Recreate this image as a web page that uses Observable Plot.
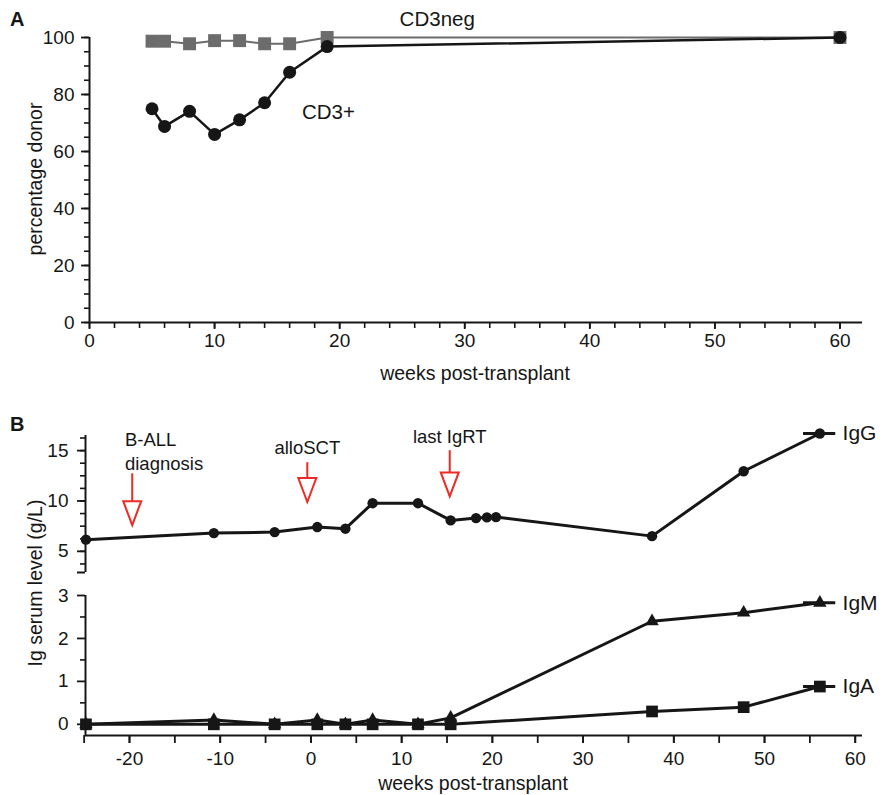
<!DOCTYPE html>
<html>
<head>
<meta charset="utf-8">
<script src="https://cdn.jsdelivr.net/npm/d3@7"></script>
<script src="https://cdn.jsdelivr.net/npm/@observablehq/plot@0.6"></script>
<style>
  html, body { margin: 0; padding: 0; background: #fff; }
  #wrap { position: relative; width: 889px; height: 795px; font-family: "Liberation Sans", Arial, sans-serif; color: #161616; }
  .panel { position: absolute; left: 0; }
  .tag { position: absolute; font-weight: bold; font-size: 20px; }
  .ylab { position: absolute; font-size: 19.5px; white-space: nowrap; transform: translate(-50%, -50%) rotate(-90deg); }
  .xlab { position: absolute; font-size: 19.5px; white-space: nowrap; transform: translate(-50%, -50%); }
</style>
</head>
<body>
<div id="wrap">
  <div class="tag" style="left:10px;top:8px;">A</div>
  <div class="tag" style="left:10px;top:413px;">B</div>
  <div class="ylab" style="left:35px;top:179px;">percentage donor</div>
  <div class="xlab" style="left:475px;top:373px;">weeks post-transplant</div>
  <div class="ylab" style="left:35px;top:583px;">Ig serum level (g/L)</div>
  <div class="xlab" style="left:473px;top:783px;">weeks post-transplant</div>
</div>
<script>
// ---------- Panel A data ----------
const weeksCD3pos = [5, 6, 8, 10, 12, 14, 16, 19, 60];
const cd3pos      = [75.0, 68.8, 74.1, 66.0, 71.1, 77.1, 87.8, 96.8, 100];
const weeksCD3neg = [5, 6, 8, 10, 12, 14, 16, 19, 60];
const cd3neg      = [98.7, 98.7, 97.8, 98.9, 98.9, 97.8, 97.8, 100, 100];
const yTicksA = [0, 20, 40, 60, 80, 100];
const xTicksA = [0, 10, 20, 30, 40, 50, 60];

// ---------- Panel B data ----------
const weeksIgG = [-24.8, -10.7, -4.0, 0.7, 3.8, 6.8, 11.8, 15.4, 18.2, 19.4, 20.4, 37.6, 47.7, 56.1];
const igG      = [6.16, 6.81, 6.91, 7.41, 7.25, 9.78, 9.78, 8.07, 8.30, 8.37, 8.40, 6.51, 12.95, 16.7];
const weeksIgMA = [-24.8, -10.7, -4.0, 0.7, 3.8, 6.8, 11.8, 15.4, 37.6, 47.7, 56.1];
const igM      = [0, 0.1, 0, 0.1, 0, 0.1, 0, 0.15, 2.40, 2.60, 2.83];
const igA      = [0, 0, 0, 0, 0, 0, 0, 0, 0.30, 0.40, 0.88];
const eventWeeks   = [-19.7, -0.4, 15.3];
const eventStemTop = [12.7, 13.8, 15.0];
const eventTip     = [7.6, 9.9, 10.45];
const eventTexts   = ["B-ALL", "diagnosis", "alloSCT", "last IgRT"];
const eventTextX   = [-20.5, -20.5, -0.4, 15.3];
const eventTextY   = [16.0, 13.7, 15.3, 16.3];
const eventTextAnchor = ["start", "start", "middle", "middle"];
const yTicksBtop = [5, 10, 15];
const yTicksBbot = [0, 1, 2, 3];
const xTicksB = [-20, -10, 0, 10, 20, 30, 40, 50, 60];

const black = "#161616", grey = "#6c6c6c", red = "#ee2a24";
const font = { fontFamily: "Liberation Sans, Arial, sans-serif", fontSize: "19px", color: "#161616", background: "transparent", overflow: "visible" };
const blank = () => "";
const plain = d => String(d);

const posData = weeksCD3pos.map((w, i) => ({ w, v: cd3pos[i] }));
const negData = weeksCD3neg.map((w, i) => ({ w, v: cd3neg[i] }));

const xA = [0, 61.8];
const plotA = Plot.plot({
  width: 889, height: 395,
  marginLeft: 89, marginRight: 27, marginTop: 37, marginBottom: 73,
  style: font,
  x: { domain: xA },
  y: { domain: [0, 100] },
  marks: [
    Plot.axisY({ ticks: d3.range(0, 101, 5), tickSize: 5, tickFormat: blank, label: null, strokeWidth: 1.6 }),
    Plot.axisY({ ticks: yTicksA, tickSize: 8, tickPadding: 7, tickFormat: plain, strokeWidth: 1.8, label: null, fontSize: 19 }),
    Plot.axisX({ ticks: d3.range(0, 62, 2), tickSize: 6, tickFormat: blank, label: null, strokeWidth: 1.6 }),
    Plot.axisX({ ticks: xTicksA, tickSize: 7, tickPadding: 4, tickFormat: plain, strokeWidth: 1.8, label: null, fontSize: 19 }),
    Plot.ruleX([xA[0]], { stroke: black, strokeWidth: 2 }),
    Plot.ruleY([0], { stroke: black, strokeWidth: 2 }),
    Plot.line(negData, { x: "w", y: "v", stroke: grey, strokeWidth: 2 }),
    Plot.dot(negData, { x: "w", y: "v", symbol: "square", r: 7.3, fill: grey }),
    Plot.line(posData, { x: "w", y: "v", stroke: black, strokeWidth: 2.5 }),
    Plot.dot(posData, { x: "w", y: "v", r: 6.5, fill: black }),
    Plot.text(["CD3neg"], { x: 27.8, y: 106.3, text: d => d, fontSize: 20.5, fill: black }),
    Plot.text(["CD3+"], { x: 19.1, y: 73.7, text: d => d, fontSize: 20.5, fill: black })
  ]
});
plotA.classList.add("panel");
plotA.style.top = "0px";

// Panel B
const xB = [-24.85, 60.8];
const igGData = weeksIgG.map((w, i) => ({ w, v: igG[i] }));
const igMData = weeksIgMA.map((w, i) => ({ w, v: igM[i] }));
const igAData = weeksIgMA.map((w, i) => ({ w, v: igA[i] }));
const events = eventWeeks.map((w, i) => ({ w, top: eventStemTop[i], tip: eventTip[i] }));
const eventText = eventTexts.map((t, i) => ({ t, x: eventTextX[i], y: eventTextY[i], a: eventTextAnchor[i] }));
const headSymbol = { draw(ctx) { ctx.moveTo(0, 0); ctx.lineTo(-9, -24); ctx.lineTo(9, -24); ctx.closePath(); } };
const legendSeg = (data, name) => { const last = data[data.length - 1]; return { w: last.w, v: last.v, name }; };

const yTopDom = [2.9, 16.5];
const plotBtop = Plot.plot({
  width: 889, height: 180,
  marginLeft: 85, marginRight: 27, marginTop: 35, marginBottom: 8,
  style: font,
  x: { domain: xB, axis: null },
  y: { domain: yTopDom },
  marks: [
    Plot.axisY({ ticks: d3.range(3.75, 16.5, 1.25), tickSize: 5, tickFormat: blank, label: null, strokeWidth: 1.6 }),
    Plot.axisY({ ticks: yTicksBtop, tickSize: 8, tickPadding: 9, tickFormat: plain, strokeWidth: 1.8, label: null, fontSize: 19 }),
    Plot.axisY({ ticks: [yTopDom[0]], tickSize: 8, tickFormat: blank, label: null, strokeWidth: 2 }),
    Plot.ruleX([xB[0]], { stroke: black, strokeWidth: 2 }),
    Plot.ruleX(events, { x: "w", y1: "top", y2: "tip", stroke: red, strokeWidth: 2 }),
    Plot.dot(events, { x: "w", y: "tip", symbol: headSymbol, r: 5, fill: "white", stroke: red, strokeWidth: 2 }),
    Plot.text(eventText.filter(d => d.a === "start"), { x: "x", y: "y", text: "t", textAnchor: "start", fontSize: 18.5, fill: black }),
    Plot.text(eventText.filter(d => d.a === "middle"), { x: "x", y: "y", text: "t", textAnchor: "middle", fontSize: 18.5, fill: black }),
    Plot.ruleY([legendSeg(igGData, "IgG")], { y: "v", x1: 54.3, x2: 57.85, stroke: black, strokeWidth: 3 }),
    Plot.text([legendSeg(igGData, "IgG")], { x: 58.6, y: "v", text: "name", textAnchor: "start", fontSize: 21, fill: black }),
    Plot.line(igGData, { x: "w", y: "v", stroke: black, strokeWidth: 3 }),
    Plot.dot(igGData, { x: "w", y: "v", r: 5.2, fill: black })
  ]
});
plotBtop.classList.add("panel");
plotBtop.style.top = "400px";

const plotBbot = Plot.plot({
  width: 889, height: 215,
  marginLeft: 85, marginRight: 27, marginTop: 15, marginBottom: 60,
  style: font,
  x: { domain: xB },
  y: { domain: [-0.26, 3] },
  marks: [
    Plot.axisY({ ticks: [0.5, 1.5, 2.5], tickSize: 5, tickFormat: blank, label: null, strokeWidth: 1.6 }),
    Plot.axisY({ ticks: yTicksBbot, tickSize: 8, tickPadding: 9, tickFormat: plain, strokeWidth: 1.8, label: null, fontSize: 19 }),
    Plot.axisX({ ticks: d3.range(-25, 61, 5), tickSize: 8, tickFormat: blank, label: null, strokeWidth: 1.8 }),
    Plot.axisX({ ticks: xTicksB, tickSize: 8, tickPadding: 8, tickFormat: plain, strokeWidth: 1.8, label: null, fontSize: 19 }),
    Plot.ruleX([xB[0]], { y1: -0.26, y2: 3, stroke: black, strokeWidth: 2 }),
    Plot.ruleY([-0.26], { stroke: black, strokeWidth: 2 }),
    Plot.ruleY([legendSeg(igMData, "IgM"), legendSeg(igAData, "IgA")], { y: "v", x1: 54.3, x2: 57.85, stroke: black, strokeWidth: 3 }),
    Plot.text([legendSeg(igMData, "IgM"), legendSeg(igAData, "IgA")], { x: 58.6, y: "v", text: "name", textAnchor: "start", fontSize: 21, fill: black }),
    Plot.line(igMData, { x: "w", y: "v", stroke: black, strokeWidth: 3 }),
    Plot.line(igAData, { x: "w", y: "v", stroke: black, strokeWidth: 3 }),
    Plot.dot(igMData, { x: "w", y: "v", symbol: "triangle", r: 5, fill: black }),
    Plot.dot(igAData, { x: "w", y: "v", symbol: "square", r: 6.6, fill: black })
  ]
});
plotBbot.classList.add("panel");
plotBbot.style.top = "580px";

const wrap = document.getElementById("wrap");
wrap.prepend(plotBbot);
wrap.prepend(plotBtop);
wrap.prepend(plotA);
</script>
</body>
</html>
